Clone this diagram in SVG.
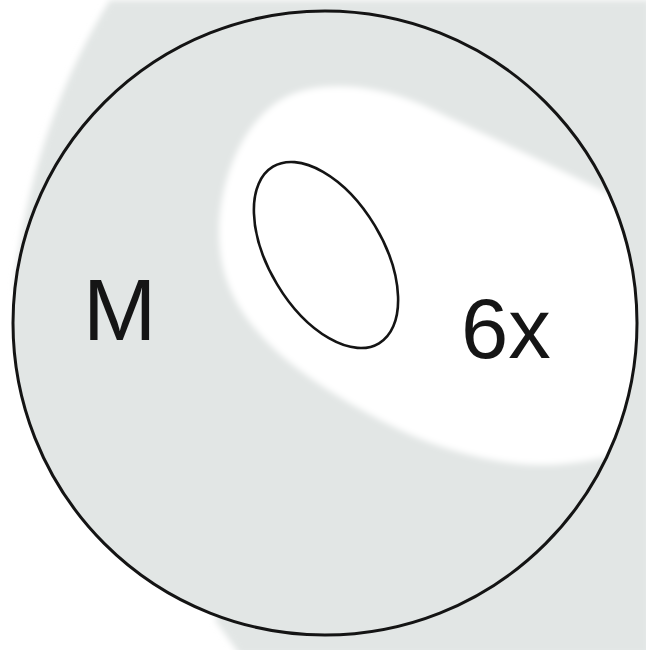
<svg xmlns="http://www.w3.org/2000/svg" width="646" height="650" viewBox="0 0 646 650">
  <style>
    .bg { fill: #e2e6e5; }
    .lbl { font-family: "Liberation Sans", Arial, sans-serif; fill: #151515; }
    .outline { fill: none; stroke: #141414; }
  </style>
  <defs>
    <filter id="soft" x="-10%" y="-10%" width="120%" height="120%">
      <feGaussianBlur stdDeviation="3"/>
    </filter>
    <clipPath id="inside">
      <circle cx="325" cy="323" r="311"/>
    </clipPath>
  </defs>
  <rect width="646" height="650" fill="#ffffff"/>
  <g id="background">
    <path class="bg" filter="url(#soft)" d="M110,0 L650,0 L650,655 L240,655 L215,620 L325,323 L14,290 C25,180 60,80 110,0 Z"/>
    <circle class="bg" cx="325" cy="323" r="312"/>
    <g clip-path="url(#inside)">
      <path fill="#ffffff" filter="url(#soft)" d="M220,250 C214,200 235,120 290,95 C320,82 370,82 423,105 C470,128 560,168 645,212 L645,448 C600,460 560,468 520,464 C470,459 420,441 390,425 C350,405 300,375 270,345 C245,320 224,290 220,250 Z"/>
    </g>
  </g>
  <g id="cell">
    <circle class="outline" cx="325" cy="323" r="312" stroke-width="3"/>
  </g>
  <g id="nucleus">
    <ellipse class="outline" cx="326" cy="255" rx="57" ry="103" transform="rotate(-31 326 255)" stroke-width="2.6"/>
  </g>
  <g id="label-M">
    <text class="lbl" x="83" y="340" font-size="88">M</text>
  </g>
  <g id="label-6x">
    <text class="lbl" x="461" y="358" font-size="85">6x</text>
  </g>
</svg>
